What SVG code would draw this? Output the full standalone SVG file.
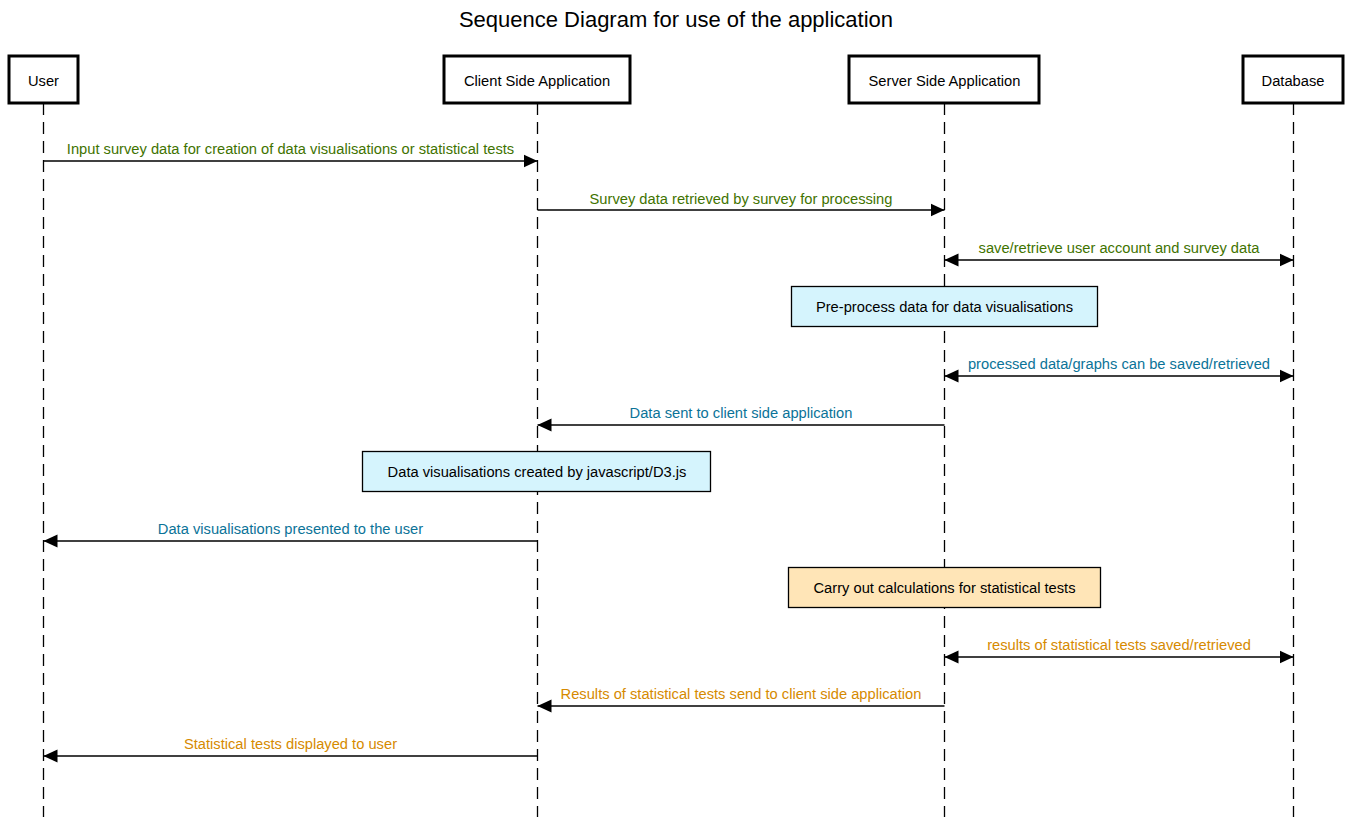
<svg xmlns="http://www.w3.org/2000/svg" width="1352" height="817" viewBox="0 0 1352 817">
<style>
text{font-family:"Liberation Sans",Arial,Helvetica,sans-serif;}
.title{font-size:22px;fill:#000;text-anchor:middle;}
.actor rect{fill:#fff;stroke:#000;stroke-width:3;}
.actor text{font-size:14.7px;fill:#000;text-anchor:middle;}
.life{stroke:#000;stroke-width:1.3;stroke-dasharray:12 7;fill:none;}
.msg{stroke:#000;stroke-width:1.5;fill:none;}
.lbl{font-size:14.7px;text-anchor:middle;}
.g{fill:#3f7300;}
.b{fill:#0b7398;}
.o{fill:#d68a00;}
.act rect{stroke:#000;stroke-width:1.3;}
.act text{font-size:14.7px;fill:#000;text-anchor:middle;}
.blue{fill:#d5f4fd;}
.orange{fill:#ffe5b7;}
</style>
<defs>
<marker id="ah" markerUnits="userSpaceOnUse" markerWidth="14" markerHeight="14" refX="14" refY="7" orient="auto-start-reverse">
<path d="M0,0.5 L14,7 L0,13.5 z" fill="#000"/>
</marker>
</defs>
<rect width="1352" height="817" fill="#fff"/>
<text class="title" x="676" y="27">Sequence Diagram for use of the application</text>

<g id="lifelines">
<line class="life" x1="43.5" y1="103" x2="43.5" y2="817"/>
<line class="life" x1="537.5" y1="103" x2="537.5" y2="817"/>
<line class="life" x1="944.5" y1="103" x2="944.5" y2="817"/>
<line class="life" x1="1293.5" y1="103" x2="1293.5" y2="817"/>
</g>

<g id="actor-user" class="actor"><rect x="9" y="56" width="69" height="47"/><text x="43.5" y="86">User</text></g>
<g id="actor-client" class="actor"><rect x="444" y="56" width="186" height="47"/><text x="537" y="86">Client Side Application</text></g>
<g id="actor-server" class="actor"><rect x="849" y="56" width="190" height="47"/><text x="944.5" y="86">Server Side Application</text></g>
<g id="actor-db" class="actor"><rect x="1243" y="56" width="100" height="47"/><text x="1293" y="86">Database</text></g>

<g id="connectors">
<line class="msg" x1="43.5" y1="161" x2="537.5" y2="161" marker-end="url(#ah)"/>
<text class="lbl g" x="290.5" y="154">Input survey data for creation of data visualisations or statistical tests</text>
<line class="msg" x1="537.5" y1="210" x2="944.5" y2="210" marker-end="url(#ah)"/>
<text class="lbl g" x="741" y="204">Survey data retrieved by survey for processing</text>
<line class="msg" x1="944.5" y1="260" x2="1293.5" y2="260" marker-start="url(#ah)" marker-end="url(#ah)"/>
<text class="lbl g" x="1119" y="253">save/retrieve user account and survey data</text>
<line class="msg" x1="944.5" y1="376" x2="1293.5" y2="376" marker-start="url(#ah)" marker-end="url(#ah)"/>
<text class="lbl b" x="1119" y="369">processed data/graphs can be saved/retrieved</text>
<line class="msg" x1="944.5" y1="425" x2="537.5" y2="425" marker-end="url(#ah)"/>
<text class="lbl b" x="741" y="418">Data sent to client side application</text>
<line class="msg" x1="537.5" y1="541" x2="43.5" y2="541" marker-end="url(#ah)"/>
<text class="lbl b" x="290.5" y="534">Data visualisations presented to the user</text>
<line class="msg" x1="944.5" y1="657" x2="1293.5" y2="657" marker-start="url(#ah)" marker-end="url(#ah)"/>
<text class="lbl o" x="1119" y="650">results of statistical tests saved/retrieved</text>
<line class="msg" x1="944.5" y1="706" x2="537.5" y2="706" marker-end="url(#ah)"/>
<text class="lbl o" x="741" y="699">Results of statistical tests send to client side application</text>
<line class="msg" x1="537.5" y1="756" x2="43.5" y2="756" marker-end="url(#ah)"/>
<text class="lbl o" x="290.5" y="749">Statistical tests displayed to user</text>
</g>

<g id="act-preprocess" class="act"><rect class="blue" x="791.5" y="286.5" width="306" height="40"/><text x="944.5" y="311.5">Pre-process data for data visualisations</text></g>
<g id="act-d3" class="act"><rect class="blue" x="362.5" y="451.5" width="348" height="40"/><text x="537" y="476.5">Data visualisations created by javascript/D3.js</text></g>
<g id="act-stats" class="act"><rect class="orange" x="788.5" y="567.5" width="312" height="40"/><text x="944.5" y="592.5">Carry out calculations for statistical tests</text></g>
</svg>
